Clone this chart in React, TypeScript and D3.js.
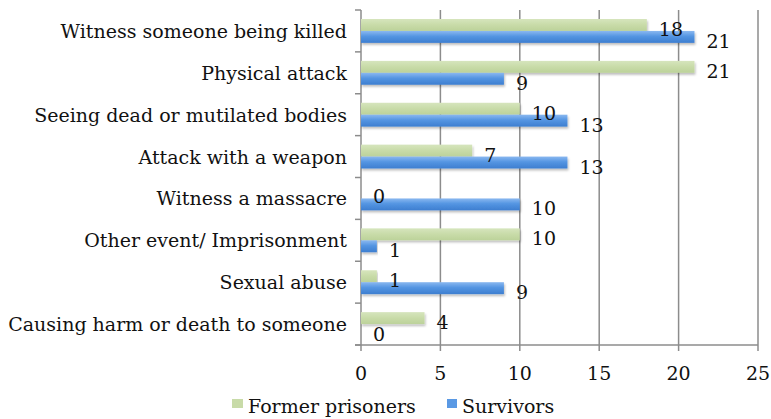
import React from 'react';
import * as d3 from 'd3';

const categories = [
  'Witness someone being killed',
  'Physical attack',
  'Seeing dead or mutilated bodies',
  'Attack with a weapon',
  'Witness a massacre',
  'Other event/ Imprisonment',
  'Sexual abuse',
  'Causing harm or death to someone',
];
const formerPrisoners = [18, 21, 10, 7, 0, 10, 1, 4];
const survivors = [21, 9, 13, 13, 10, 1, 9, 0];
const xTicks = [0, 5, 10, 15, 20, 25];
const seriesNames = ['Former prisoners', 'Survivors'];

const W = 771;
const H = 419;
const margin = { top: 10, right: 13, bottom: 74, left: 361 };
const font = '"DejaVu Serif", serif';
const fs = 19;

const App = () => {
  const x = d3.scaleLinear().domain([0, 25]).range([margin.left, W - margin.right]);
  const y = d3.scaleBand<string>()
    .domain(categories)
    .range([margin.top, H - margin.bottom])
    .paddingInner(0.43)
    .paddingOuter(0.215);
  const sub = d3.scaleBand<string>().domain(seriesNames).range([0, y.bandwidth()]);
  const bottom = H - margin.bottom;
  const step = y.step();
  const boundaries = d3.range(categories.length + 1).map(i => margin.top + i * step);

  return (
    <svg width={W} height={H} style={{ position: 'absolute', left: 0, top: 0 }}>
      <defs>
        <linearGradient id="gGreen" x1="0" y1="0" x2="0" y2="1">
          <stop offset="0" stopColor="#d6e5bd" />
          <stop offset="0.5" stopColor="#c8dba8" />
          <stop offset="1" stopColor="#bcd29a" />
        </linearGradient>
        <linearGradient id="gBlue" x1="0" y1="0" x2="0" y2="1">
          <stop offset="0" stopColor="#8ab8f0" />
          <stop offset="0.45" stopColor="#5495e2" />
          <stop offset="1" stopColor="#3d7ed0" />
        </linearGradient>
        <filter id="shadow" x="-5%" y="-30%" width="110%" height="180%">
          <feDropShadow dx="1" dy="2" stdDeviation="1.2" floodColor="#000" floodOpacity="0.25" />
        </filter>
      </defs>
      <rect width={W} height={H} fill="#fff" />
      {/* grid lines */}
      {xTicks.filter(t => t > 0).map(t => (
        <line key={t} x1={x(t)} x2={x(t)} y1={margin.top} y2={bottom + 6} stroke="#8c8c8c" strokeWidth={1.5} />
      ))}
      {/* left axis */}
      <line x1={x(0)} x2={x(0)} y1={margin.top} y2={bottom + 6} stroke="#8c8c8c" strokeWidth={1.5} />
      {boundaries.map((b, i) => (
        <line key={i} x1={x(0) - 6} x2={x(0)} y1={b} y2={b} stroke="#8c8c8c" strokeWidth={1.5} />
      ))}
      {/* bottom axis */}
      <line x1={x(0) - 6} x2={x(25)} y1={bottom} y2={bottom} stroke="#8c8c8c" strokeWidth={1.5} />
      {xTicks.map(t => (
        <text key={t} x={x(t)} y={bottom + 35} textAnchor="middle" fontFamily={font} fontSize={fs} fill="#111">
          {t}
        </text>
      ))}
      {categories.map((c, i) => {
        const y0 = y(c)!;
        const vals = [formerPrisoners[i], survivors[i]];
        return (
          <g key={c}>
            <text x={x(0) - 14} y={y0 + y.bandwidth() / 2 + 7} textAnchor="end" fontFamily={font} fontSize={fs} fill="#111">
              {c}
            </text>
            {vals.map((v, k) => (
              <rect
                key={k}
                x={x(0)}
                y={y0 + sub(seriesNames[k])!}
                width={x(v) - x(0)}
                height={sub.bandwidth()}
                fill={k === 0 ? 'url(#gGreen)' : 'url(#gBlue)'}
                filter="url(#shadow)"
              />
            ))}
            {vals.map((v, k) => (
              <text
                key={'l' + k}
                x={x(v) + 12}
                y={y0 + sub(seriesNames[k])! + sub.bandwidth() / 2 + 11}
                fontFamily={font}
                fontSize={fs}
                fill="#111"
              >
                {v}
              </text>
            ))}
          </g>
        );
      })}
      {/* legend */}
      <rect x={232} y={399} width={11} height={9} fill="#c8dba8" />
      <text x={248} y={413} fontFamily={font} fontSize={fs} fill="#111">{seriesNames[0]}</text>
      <rect x={447} y={399} width={10} height={9} fill="#5a99e4" />
      <text x={462} y={413} fontFamily={font} fontSize={fs} fill="#111">{seriesNames[1]}</text>
    </svg>
  );
};

export default App;
